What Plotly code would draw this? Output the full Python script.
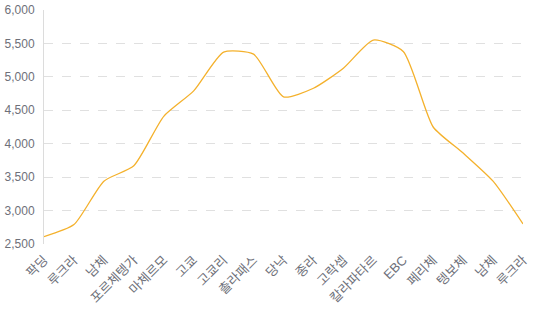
import plotly.graph_objects as go

categories = ["팍딩", "루크라", "남체", "포르체텡가", "마체르모", "고쿄", "고쿄리", "촐라패스",
              "당낙", "종라", "고락셉", "칼라파타르", "EBC", "페리체", "텡보체", "남체", "루크라"]
altitude = [2610, 2790, 3440, 3670, 4410, 4790, 5370, 5340,
            4700, 4830, 5130, 5550, 5380, 4250, 3860, 3440, 2800]
y_ticks = [2500, 3000, 3500, 4000, 4500, 5000, 5500, 6000]

idx = list(range(len(categories)))

fig = go.Figure()
fig.add_trace(go.Scatter(
    x=idx, y=altitude, mode="lines",
    line=dict(color="#f4b12c", width=1.3, shape="spline", smoothing=0.6),
    hoverinfo="skip", showlegend=False,
))

font_family = "Liberation Sans, Noto Sans CJK KR, sans-serif"
fig.update_layout(
    width=535, height=310,
    margin=dict(l=44, r=12, t=10, b=66, autoexpand=False),
    paper_bgcolor="white", plot_bgcolor="white",
    font=dict(family=font_family, size=12, color="#6e7079"),
    xaxis=dict(
        range=[0, len(categories) - 1], automargin=False,
        tickmode="array", tickvals=idx, ticktext=categories,
        tickangle=-45, showgrid=False, zeroline=False,
        showline=False, ticks="", ticklabelstandoff=5,
        tickfont=dict(size=13, color="#6e7079"),
    ),
    yaxis=dict(
        range=[2500, 6000], tickmode="array", tickvals=y_ticks, automargin=False,
        tickformat=",", showgrid=True, gridcolor="#e0e0e0",
        griddash="dash", gridwidth=1, zeroline=False,
        showline=True, linecolor="#dcdcdc", linewidth=1,
        ticks="", ticklabelstandoff=6,
        tickfont=dict(size=12, color="#6e7079"),
    ),
)

fig.write_html("out.html")
